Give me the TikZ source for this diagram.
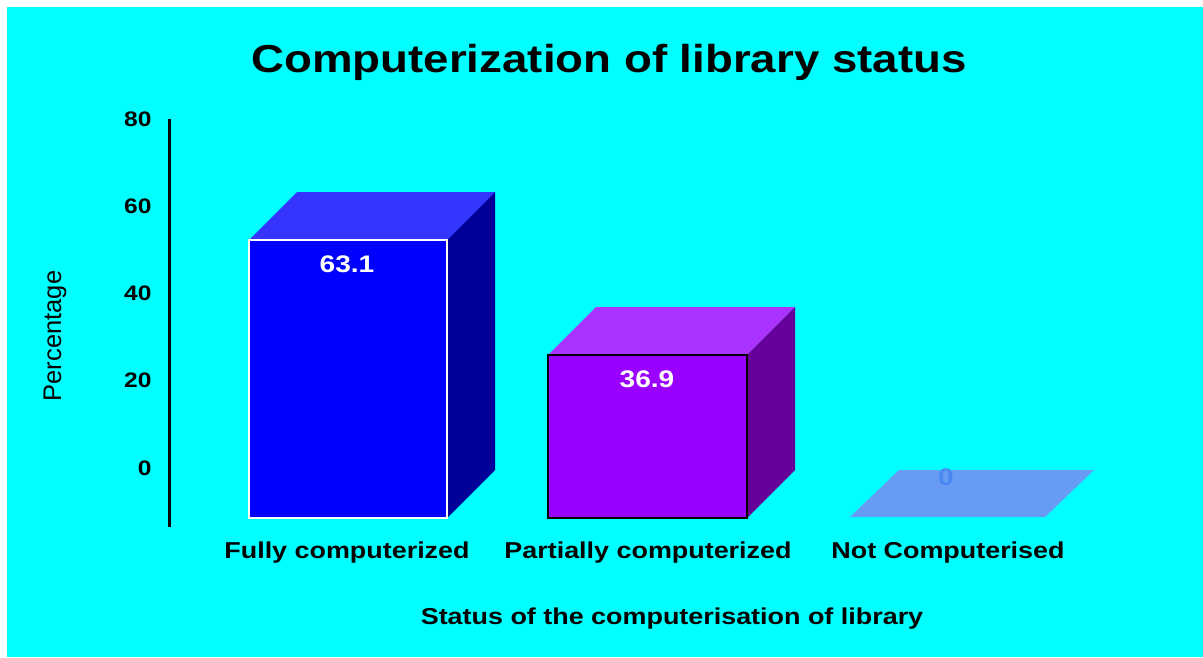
\documentclass[tikz,border=0pt]{standalone}
\usepackage{fontspec}
\setmainfont{Liberation Sans}[BoldFeatures={FakeStretch=1.17}]
\usepackage{tikz}
\usetikzlibrary{calc}

\definecolor{bgcyan}{HTML}{00FFFF}
\definecolor{frontA}{HTML}{0000FF}
\definecolor{topA}{HTML}{3535FF}
\definecolor{sideA}{HTML}{000099}
\definecolor{frontB}{HTML}{9900FF}
\definecolor{topB}{HTML}{AA33FF}
\definecolor{sideB}{HTML}{660099}
\definecolor{flatC}{HTML}{689CF4}
\definecolor{labelC}{HTML}{4A88F0}

\tikzset{
    ticklabel/.style={anchor=east,font=\fontsize{21}{21}\selectfont\bfseries},
    catlabel/.style={font=\fontsize{23}{23}\selectfont\bfseries},
    vallabel/.style={text=white,font=\fontsize{24}{24}\selectfont\bfseries}
}

\begin{document}
\begin{tikzpicture}[x=1pt,y=-1pt]
        \fill[white] (0,0) rectangle (1203,657);
        \fill[bgcyan] (7,7) rectangle (1203,657);
        \useasboundingbox (0,0) rectangle (1203,657);

        \node[font=\fontsize{39}{39}\selectfont\bfseries] (title) at (609,62)
            {Computerization of library status};

        % axis
        \coordinate (axtop) at (169.5,119);
        \coordinate (axbot) at (169.5,527);
        \draw[line width=2.2pt] (axtop) -- (axbot);
        \foreach \v/\y in {80/119,60/206,40/293,20/380,0/468}
        \node[ticklabel] (tick\v) at (155,\y) {\v};

        \node[rotate=90,font=\fontsize{25.5}{25.5}\selectfont] (ytitle) at (55,336) {Percentage};

        % bars
        \fill[topA] (249,240) -- (297,192) -- (495,192) -- (447,240) -- cycle;
        \fill[sideA] (447,240) -- (495,192) -- (495,470) -- (447,518) -- cycle;
        \filldraw[fill=frontA,draw=white,line width=1.8pt] (249,240) rectangle (447,518);

        \fill[topB] (548,355) -- (596,307) -- (795,307) -- (747,355) -- cycle;
        \fill[sideB] (747,355) -- (795,307) -- (795,470) -- (747,518) -- cycle;
        \filldraw[fill=frontB,draw=black,line width=1.8pt] (548,355) rectangle (747,518);

        \fill[flatC] (850,517) -- (899,470) -- (1094,470) -- (1045,517) -- cycle;

        \node[vallabel] (valA) at (347,264) {63.1};
        \node[vallabel] (valB) at (647,379) {36.9};
        \node[vallabel,text=labelC] (valC) at (946,477) {0};

        % categories
        \node[catlabel] (catA) at (347,553) {Fully computerized};
        \node[catlabel] (catB) at (648,553) {Partially computerized};
        \node[catlabel] (catC) at (948,553) {Not Computerised};

        \node[catlabel] (xtitle) at (672,619) {Status of the computerisation of library};
    \end{tikzpicture}
\end{document}
